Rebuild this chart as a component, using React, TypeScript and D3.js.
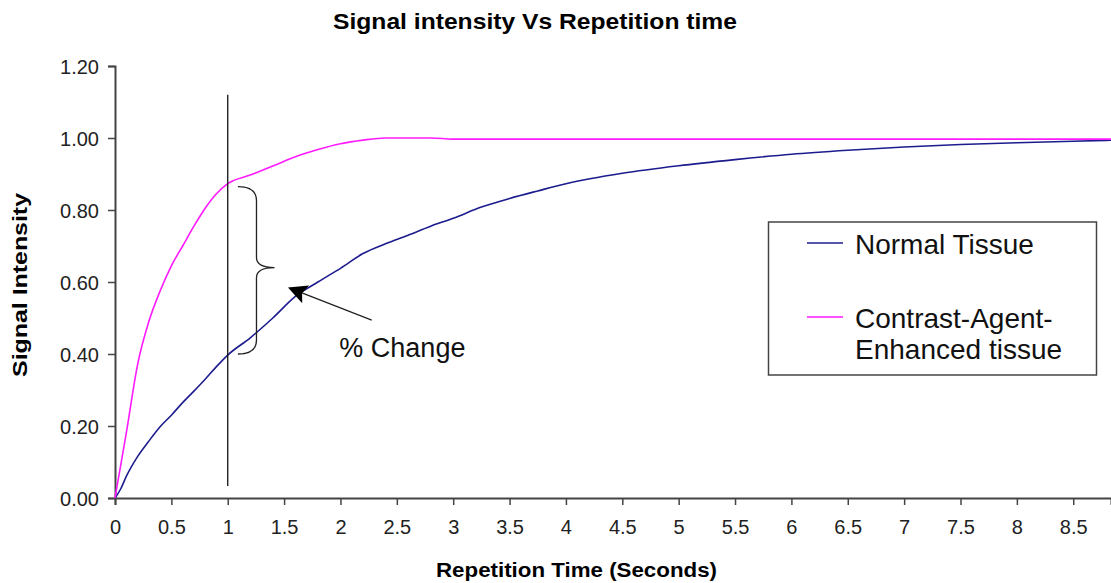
import React, { useRef, useEffect } from "react";
import * as d3 from "d3";

// repetition time (s) sample points
const times = [0, 0.05, 0.1, 0.2, 0.3, 0.4, 0.5, 0.6, 0.7, 0.8, 0.9, 1.0, 1.2, 1.4, 1.6, 1.8, 2.0, 2.2, 2.4, 2.6, 2.8, 3.0, 3.25, 3.5, 3.75, 4.0, 4.5, 5.0, 5.5, 6.0, 6.5, 7.0, 7.5, 8.0, 8.5, 8.85];

const normalTissue = [0, 0.025, 0.06, 0.115, 0.158, 0.198, 0.23, 0.265, 0.297, 0.33, 0.365, 0.397, 0.445, 0.5, 0.56, 0.6, 0.638, 0.679, 0.706, 0.73, 0.755, 0.777, 0.808, 0.832, 0.853, 0.873, 0.902, 0.923, 0.94, 0.955, 0.966, 0.975, 0.982, 0.987, 0.991, 0.994];

const enhancedTissue = [0, 0.09, 0.18, 0.37, 0.49, 0.575, 0.645, 0.7, 0.755, 0.805, 0.845, 0.873, 0.897, 0.922, 0.948, 0.968, 0.984, 0.994, 1.0, 1.0, 1.0, 0.997, 0.997, 0.997, 0.997, 0.997, 0.997, 0.997, 0.997, 0.997, 0.997, 0.997, 0.997, 0.997, 0.997, 0.997];

const seriesNames = ["Normal Tissue", "Contrast-Agent-Enhanced tissue"];
const seriesColors = ["#1c1c8e", "#ff1aff"];

const xTicks = [0, 0.5, 1, 1.5, 2, 2.5, 3, 3.5, 4, 4.5, 5, 5.5, 6, 6.5, 7, 7.5, 8, 8.5];
const yTicks = [0, 0.2, 0.4, 0.6, 0.8, 1.0, 1.2];

const FONT = "'Liberation Sans', Arial, sans-serif";

const App = () => {
  const svgRef = useRef<SVGSVGElement>(null);

  useEffect(() => {
    const svg = d3.select(svgRef.current);
    svg.selectAll("*").remove();

    const x = d3.scaleLinear().domain([0, 8.835]).range([115, 1111]);
    const y = d3.scaleLinear().domain([0, 1.2]).range([498, 66]);

    // title
    svg
      .append("text")
      .attr("x", 333)
      .attr("y", 29)
      .attr("textLength", 404)
      .attr("lengthAdjust", "spacingAndGlyphs")
      .style("font", `bold 22px ${FONT}`)
      .text("Signal intensity Vs Repetition time");

    // axes
    const xAxis = svg
      .append("g")
      .attr("transform", `translate(0,${y(0)})`)
      .call(
        d3.axisBottom(x).tickValues(xTicks).tickSize(7).tickPadding(15).tickFormat((d) => String(d))
      );
    const yAxis = svg
      .append("g")
      .attr("transform", `translate(${x(0)},0)`)
      .call(d3.axisLeft(y).tickValues(yTicks).tickSize(7).tickPadding(9).tickFormat(d3.format(".2f")));

    [xAxis, yAxis].forEach((g) => {
      g.select(".domain").attr("stroke", "#444").attr("stroke-width", 2);
      g.selectAll(".tick line").attr("stroke", "#444").attr("stroke-width", 1.5);
      g.selectAll(".tick text")
        .attr("fill", "#222")
        .style("font", `20px ${FONT}`);
    });
    yAxis.selectAll(".tick text").attr("dy", "0.36em");

    // axis titles
    svg
      .append("text")
      .attr("x", 436)
      .attr("y", 577)
      .attr("textLength", 281)
      .attr("lengthAdjust", "spacingAndGlyphs")
      .style("font", `bold 20px ${FONT}`)
      .text("Repetition Time (Seconds)");
    svg
      .append("text")
      .attr("transform", "translate(27,285) rotate(-90)")
      .attr("text-anchor", "middle")
      .attr("textLength", 184)
      .attr("lengthAdjust", "spacingAndGlyphs")
      .style("font", `bold 20px ${FONT}`)
      .text("Signal Intensity");

    // series
    const line = d3
      .line<number>()
      .x((_, i) => x(times[i]))
      .y((d) => y(d))
      .curve(d3.curveMonotoneX);

    [normalTissue, enhancedTissue].forEach((vals, i) => {
      svg
        .append("path")
        .datum(vals)
        .attr("fill", "none")
        .attr("stroke", seriesColors[i])
        .attr("stroke-width", 1.6)
        .attr("d", line);
    });

    // vertical marker at TR = 1 s
    svg
      .append("line")
      .attr("x1", x(1))
      .attr("x2", x(1))
      .attr("y1", y(1.12))
      .attr("y2", y(0.033))
      .attr("stroke", "#111")
      .attr("stroke-width", 1.3);

    // brace between curves
    const bx0 = x(1.09), bx1 = x(1.255), bx2 = x(1.415);
    const bTop = y(0.865), bMid = y(0.64), bBot = y(0.4);
    svg
      .append("path")
      .attr("fill", "none")
      .attr("stroke", "#222")
      .attr("stroke-width", 1.3)
      .attr(
        "d",
        `M${bx0},${bTop} Q${bx1},${bTop} ${bx1},${bTop + 14} L${bx1},${bMid - 10} Q${bx1},${bMid} ${bx2},${bMid}` +
          ` Q${bx1},${bMid} ${bx1},${bMid + 10} L${bx1},${bBot - 14} Q${bx1},${bBot} ${bx0},${bBot}`
      );

    // arrow
    svg
      .append("defs")
      .append("marker")
      .attr("id", "arrowhead")
      .attr("viewBox", "0 0 10 10")
      .attr("refX", 9)
      .attr("refY", 5)
      .attr("markerWidth", 22)
      .attr("markerHeight", 19)
      .attr("markerUnits", "userSpaceOnUse")
      .attr("orient", "auto")
      .append("path")
      .attr("d", "M0,0 L10,5 L0,10 L2,5 Z")
      .attr("fill", "#000");

    svg
      .append("line")
      .attr("x1", x(2.277))
      .attr("y1", y(0.494))
      .attr("x2", x(1.55))
      .attr("y2", y(0.583))
      .attr("stroke", "#222")
      .attr("stroke-width", 1.3)
      .attr("marker-end", "url(#arrowhead)");

    svg
      .append("text")
      .attr("x", x(1.99))
      .attr("y", y(0.392))
      .style("font", `27px ${FONT}`)
      .attr("fill", "#111")
      .text("% Change");

    // legend
    const legend = svg.append("g");
    legend
      .append("rect")
      .attr("x", 768.5)
      .attr("y", 222)
      .attr("width", 328)
      .attr("height", 153)
      .attr("fill", "#fff")
      .attr("stroke", "#444")
      .attr("stroke-width", 1.5);

    const rows = [
      { y: 243, lines: ["Normal Tissue"] },
      { y: 317, lines: ["Contrast-Agent-", "Enhanced tissue"] },
    ];
    rows.forEach((r, i) => {
      legend
        .append("line")
        .attr("x1", 807)
        .attr("x2", 843)
        .attr("y1", r.y)
        .attr("y2", r.y)
        .attr("stroke", seriesColors[i])
        .attr("stroke-width", 1.5);
      r.lines.forEach((t, j) => {
        legend
          .append("text")
          .attr("x", 855)
          .attr("y", r.y + 11 + j * 31)
          .style("font", `28px ${FONT}`)
          .attr("fill", "#111")
          .text(t);
      });
    });
  }, []);

  return (
    <div style={{ position: "absolute", left: 0, top: 0 }}>
      <svg ref={svgRef} width={1111} height={583} style={{ display: "block", background: "#fff" }} />
    </div>
  );
};

export default App;
